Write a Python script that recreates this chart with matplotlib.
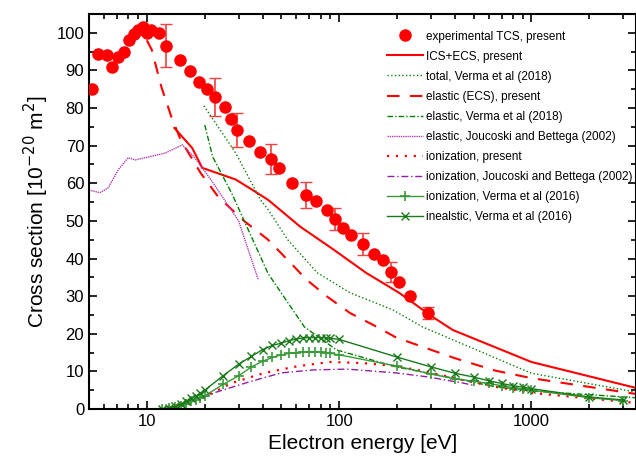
import numpy as np
import matplotlib
matplotlib.use("Agg")
import matplotlib.pyplot as plt
from matplotlib.ticker import MultipleLocator, LogLocator, NullFormatter

plt.rcParams['font.family'] = ['Liberation Sans', 'DejaVu Sans']

# experimental TCS, present
exp_e = [5.2, 5.6, 6.2, 6.6, 7.1, 7.6, 8.1, 8.6, 9.0, 9.5, 10.0, 10.5, 11.5, 12.5,
         14.8, 16.8, 18.7, 20.5, 22.6, 25.4, 27.3, 29.3, 34, 38.8, 44, 48.6, 57,
         67.6, 76, 86, 95, 105, 115, 133, 151, 170, 187, 205, 233, 290]
exp_y = [85, 94.4, 94, 91, 93.6, 95, 98.1, 99.7, 100.8, 101.5, 100, 100.8, 100, 96.6,
         92.9, 89.9, 87, 85, 83, 80.2, 77.2, 74.1, 71.2, 68.3, 66.4, 64.1, 60.1,
         56.9, 55.3, 52.9, 50.5, 48.1, 46.3, 43.9, 41.2, 39.6, 36.4, 33.8, 30.1, 25.5]
err_e = [12.5, 22.6, 29.3, 44, 67.6, 95, 133, 187, 290]
err_y = [96.6, 83, 74.1, 66.4, 56.9, 50.5, 43.9, 36.4, 25.5]
err_v = [5.8, 5.0, 4.5, 4.0, 3.4, 3.0, 3.0, 2.6, 1.7]

# ICS+ECS, present
sum_e = [13.9, 17.2, 19.4, 29, 36, 42.7, 63, 94, 138, 205, 306, 390, 1000, 3500]
sum_y = [74.7, 69.4, 64.1, 61, 58, 55.6, 48.4, 42.3, 36.2, 30.9, 24.5, 21, 12.5, 5.6]

# total, Verma et al (2018)
tot_e = [19.8, 29, 39, 42.7, 54, 77, 114, 191, 272, 1000, 3500]
tot_y = [80.6, 68, 55.6, 53, 45, 36.2, 30.9, 26.3, 21.8, 9.5, 4.5]

# elastic (ECS), present
ecs_e = [10.0, 10.6, 11.9, 13.4, 15, 19, 23.5, 32, 42.7, 54, 68, 87, 114, 151, 198,
         400, 650, 1000, 3500]
ecs_y = [98, 95.5, 85.6, 77.7, 71.5, 62.8, 56.4, 50, 45, 39.6, 34.3, 29.8, 25.5, 22.3,
         19.0, 13.5, 10.2, 8.2, 4.0]

# elastic, Verma et al (2018)
ev_e = [20, 22, 27.6, 42.7, 66, 97, 198, 440, 650, 1000, 3500]
ev_y = [75.5, 67, 57.4, 36, 21.8, 15.7, 11.2, 7.7, 5.9, 4.8, 3.0]

# elastic, Joucoski and Bettega (2002)
ej_e = [5, 5.7, 6.3, 7.1, 8, 8.7, 9.8, 12.4, 15.3, 17.6, 21.5, 30, 38]
ej_y = [58.2, 57.5, 58.8, 63.6, 66.8, 66.2, 66.8, 68, 70.2, 67, 61, 50, 34.3]

# ionization, present
ip_e = [11.6, 18.7, 27.6, 41, 61, 90, 134, 198, 292, 440, 650, 1000, 3500]
ip_y = [0, 2.4, 6.9, 9.6, 11.4, 12.5, 12.2, 11.4, 9.8, 7.7, 5.9, 4.3, 1.6]

# ionization, Joucoski and Bettega (2002)
ij_e = [14.3, 23, 34, 50, 74, 110, 198, 292, 440, 500]
ij_y = [0.3, 4.5, 7.2, 9.6, 10.4, 10.6, 9.6, 8.5, 6.9, 6.3]

# ionization / inelastic, Verma et al (2016)
v_e = [12, 13, 14, 15, 16, 17, 18, 19, 20, 25, 30, 35, 40, 45, 50, 55, 60, 65,
       70, 75, 80, 85, 90, 100, 200, 300, 400, 500, 600, 700, 800, 900, 1000, 2000, 3000]
iv_y = [0, 0.2, 0.5, 0.9, 1.4, 2.0, 2.5, 3.0, 3.5, 6.6, 8.8, 11.2, 12.7, 13.7, 14.4,
        14.8, 15.0, 15.2, 15.2, 15.2, 15.1, 15.0, 14.8, 14.4, 11.4, 9.3, 8.0, 7.4,
        6.8, 6.2, 5.7, 5.3, 5.0, 3.0, 2.2]
inel_y = [0, 0.3, 0.7, 1.3, 2.0, 2.8, 3.5, 4.2, 5.0, 8.9, 11.9, 14.0, 15.8, 16.9,
          17.5, 18.2, 18.6, 18.9, 19.0, 19.0, 19.0, 18.9, 18.8, 18.5, 13.8, 11.2,
          9.5, 8.5, 7.5, 6.8, 6.2, 5.8, 5.4, 3.2, 2.4]

fig = plt.figure(figsize=(6.36, 4.63), dpi=100)
ax = fig.add_axes([89/636, 54/463, 547/636, 395/463])

ax.plot(exp_e, exp_y, 'o', color='red', ms=8, label="experimental TCS, present", zorder=5)
ax.errorbar(err_e, err_y, yerr=err_v, fmt='none', ecolor='#f04040', capsize=4, lw=1.2, zorder=4)
ax.plot(sum_e, sum_y, '-', color='red', lw=1.5, label="ICS+ECS, present")
ax.plot(tot_e, tot_y, ':', color='green', lw=1.0, label="total, Verma et al (2018)")
ax.plot(ecs_e, ecs_y, '--', color='red', lw=1.5, dashes=(6, 5), label="elastic (ECS), present")
ax.plot(ev_e, ev_y, '-.', color='green', lw=1.0, dashes=(4, 1.5, 1, 1.5), label="elastic, Verma et al (2018)")
ax.plot(ej_e, ej_y, ':', color='#b040b0', lw=1.0, dashes=(1, 0.6), label="elastic, Joucoski and Bettega (2002)")
ax.plot(ip_e, ip_y, ':', color='red', lw=1.6, dashes=(1, 3), label="ionization, present")
ax.plot(ij_e, ij_y, '-.', color='#9020a0', lw=1.0, dashes=(5, 2, 1, 2), label="ionization, Joucoski and Bettega (2002)")
ax.plot(v_e, iv_y, '-', color='#3a9a3a', lw=1.0, marker='+', ms=7, mew=1.2,
        label="ionization, Verma et al (2016)")
ax.plot(v_e, inel_y, '-', color='#1a7a1a', lw=1.0, marker='x', ms=6, mew=1.0,
        label="inealstic, Verma et al (2016)")

ax.set_xscale('log')
ax.set_xlim(5, 3500)
ax.set_ylim(0, 105)
ax.yaxis.set_major_locator(MultipleLocator(10))
ax.yaxis.set_minor_locator(MultipleLocator(5))
ax.xaxis.set_minor_locator(LogLocator(base=10, subs=np.arange(2, 10)))
ax.xaxis.set_minor_formatter(NullFormatter())
ax.set_xticks([10, 100, 1000])
ax.set_xticklabels(['10', '100', '1000'])
ax.tick_params(which='both', direction='in', top=True, right=True, labelsize=12, width=1.2)
ax.tick_params(which='major', length=6)
ax.tick_params(which='minor', length=3.5)
for s in ax.spines.values():
    s.set_linewidth(1.5)

ax.set_xlabel("Electron energy [eV]", fontsize=15)
ax.set_ylabel("Cross section [10$^{-20}$ m$^2$]", fontsize=15)

ax.legend(loc='upper left', bbox_to_anchor=(0.525, 0.985), frameon=False, fontsize=8.5,
          handlelength=3.1, labelspacing=0.68, handletextpad=0.25)

fig.savefig("out.png", dpi=100)
